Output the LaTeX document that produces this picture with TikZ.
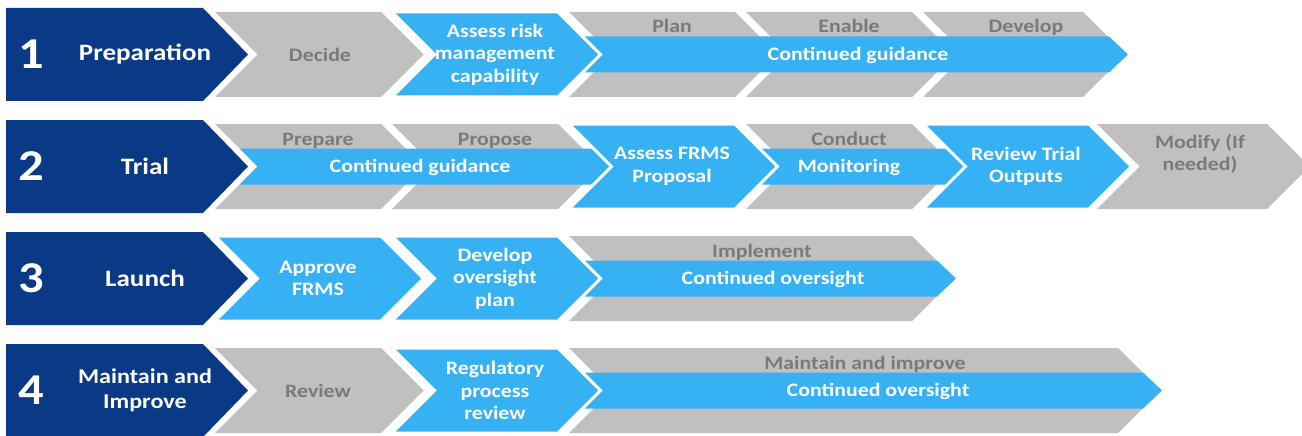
\documentclass[tikz,border=0pt]{standalone}
\usepackage{fontspec}
\setmainfont{Carlito}[FakeStretch=1.15]
\definecolor{navyc}{HTML}{0A3A86}
\definecolor{bluec}{HTML}{36B1F3}
\definecolor{grayc}{HTML}{C0C0C0}
\definecolor{grtext}{HTML}{7A7A7A}
% #1 style, #2 left x, #3 centre y, #4 flat width
\newcommand{\chevshape}[4]{\path[#1] (#2,#3-42.5) -- ++(#4,0) -- ++(42.5,42.5) -- ++(-42.5,42.5) -- ++(-#4,0) -- ++(42.5,-42.5) -- cycle;}
% #1 style, #2 start x, #3 centre y, #4 tip x
\newcommand{\bandshape}[4]{\path[#1] (#2,#3-18) -- (#4-19,#3-18) -- (#4,#3) -- (#4-19,#3+18) -- (#2,#3+18) -- cycle;}
% #1 centre y
\newcommand{\darkshape}[1]{\path[darkfill] (6,#1-46.5) -- (203,#1-46.5) -- (248,#1) -- (203,#1+46.5) -- (6,#1+46.5) -- cycle;}
\begin{document}
\begin{tikzpicture}[x=1pt,y=-1pt,
  darkfill/.style={fill=navyc},
  grayfill/.style={fill=grayc},
  bluefill/.style={fill=bluec,draw=white,line width=3pt},
  bandfill/.style={fill=bluec},
  numlbl/.style={text=white,font=\fontsize{44}{48}\selectfont\bfseries,inner sep=0pt},
  headlbl/.style={text=white,font=\fontsize{23.5}{27}\selectfont\bfseries,align=center,inner sep=0pt},
  whitelbl/.style={text=white,font=\fontsize{19}{22.5}\selectfont\bfseries,align=center,inner sep=0pt},
  graylbl/.style={text=grtext,font=\fontsize{19}{22.5}\selectfont\bfseries,align=center,inner sep=0pt},
  toplbl/.style={text=grtext,font=\fontsize{19}{22.5}\selectfont\bfseries,anchor=base,inner sep=0pt},
  bandlbl/.style={text=white,font=\fontsize{19}{22.5}\selectfont\bfseries,anchor=base,inner sep=0pt}]
\useasboundingbox[fill=white] (0,0) rectangle (1302,436);

% ---------- Row 1 ----------
\darkshape{54.5}
\chevshape{grayfill}{215}{54.5}{166}
\chevshape{grayfill}{569}{54.5}{166}
\chevshape{grayfill}{746}{54.5}{166}
\chevshape{grayfill}{923}{54.5}{160}
\bandshape{bandfill}{500}{54.5}{1128}
\chevshape{bluefill}{392}{54.5}{166}
\node[numlbl] (n1) at (31,54.5) {1};
\node[headlbl] (h1) at (145,54.5) {Preparation};
\node[graylbl] (decide) at (320,54.5) {Decide};
\node[whitelbl] (assessrisk) at (495,54.5) {Assess risk\\management\\capability};
\node[toplbl] (plan) at (672,33) {Plan};
\node[toplbl] (enable) at (849,33) {Enable};
\node[toplbl] (develop) at (1026,33) {Develop};
\node[bandlbl] (cg1) at (858,60.5) {Continued guidance};

% ---------- Row 2 ----------
\darkshape{166.5}
\chevshape{grayfill}{215}{166.5}{166}
\chevshape{grayfill}{392}{166.5}{166}
\chevshape{grayfill}{746}{166.5}{166}
\chevshape{grayfill}{1097}{166.5}{170}
\path[bandfill] (239.5,148.5) -- (1000,148.5) -- (1000,184.5) -- (239.5,184.5) -- (257.5,166.5) -- cycle;
\chevshape{bluefill}{569}{166.5}{166}
\chevshape{bluefill}{923}{166.5}{166}
\node[numlbl] (n2) at (31,166.5) {2};
\node[headlbl] (h2) at (145,166.5) {Trial};
\node[toplbl] (prepare) at (318,145) {Prepare};
\node[toplbl] (propose) at (495,145) {Propose};
\node[bandlbl] (cg2) at (420,172.5) {Continued guidance};
\node[whitelbl] (assessfrms) at (672,166.5) {Assess FRMS\\Proposal};
\node[toplbl] (conduct) at (849,145) {Conduct};
\node[bandlbl] (monitoring) at (849,172.5) {Monitoring};
\node[whitelbl] (reviewtrial) at (1026,166.5) {Review Trial\\Outputs};
\node[graylbl] (modify) at (1200,154) {Modify (If\\needed)};

% ---------- Row 3 ----------
\darkshape{278.5}
\chevshape{grayfill}{569}{278.5}{343}
\bandshape{bandfill}{480}{278.5}{956}
\chevshape{bluefill}{215}{278.5}{166}
\chevshape{bluefill}{392}{278.5}{166}
\node[numlbl] (n3) at (31,278.5) {3};
\node[headlbl] (h3) at (145,278.5) {Launch};
\node[whitelbl] (approve) at (318,278.5) {Approve\\FRMS};
\node[whitelbl] (oversightplan) at (495,278.5) {Develop\\oversight\\plan};
\node[toplbl] (implement) at (762,257) {Implement};
\node[bandlbl] (co3) at (773,284.5) {Continued oversight};

% ---------- Row 4 ----------
\darkshape{390.5}
\chevshape{grayfill}{215}{390.5}{166}
\chevshape{grayfill}{569}{390.5}{549}
\bandshape{bandfill}{480}{390.5}{1162}
\chevshape{bluefill}{392}{390.5}{166}
\node[numlbl] (n4) at (31,390.5) {4};
\node[headlbl,font=\fontsize{21}{25}\selectfont\bfseries] (h4) at (145,390.5) {Maintain and\\Improve};
\node[graylbl] (review) at (318,390.5) {Review};
\node[whitelbl] (regulatory) at (495,390.5) {Regulatory\\process\\review};
\node[toplbl] (maintain) at (865,369) {Maintain and improve};
\node[bandlbl] (co4) at (878,396.5) {Continued oversight};
\end{tikzpicture}
\end{document}
